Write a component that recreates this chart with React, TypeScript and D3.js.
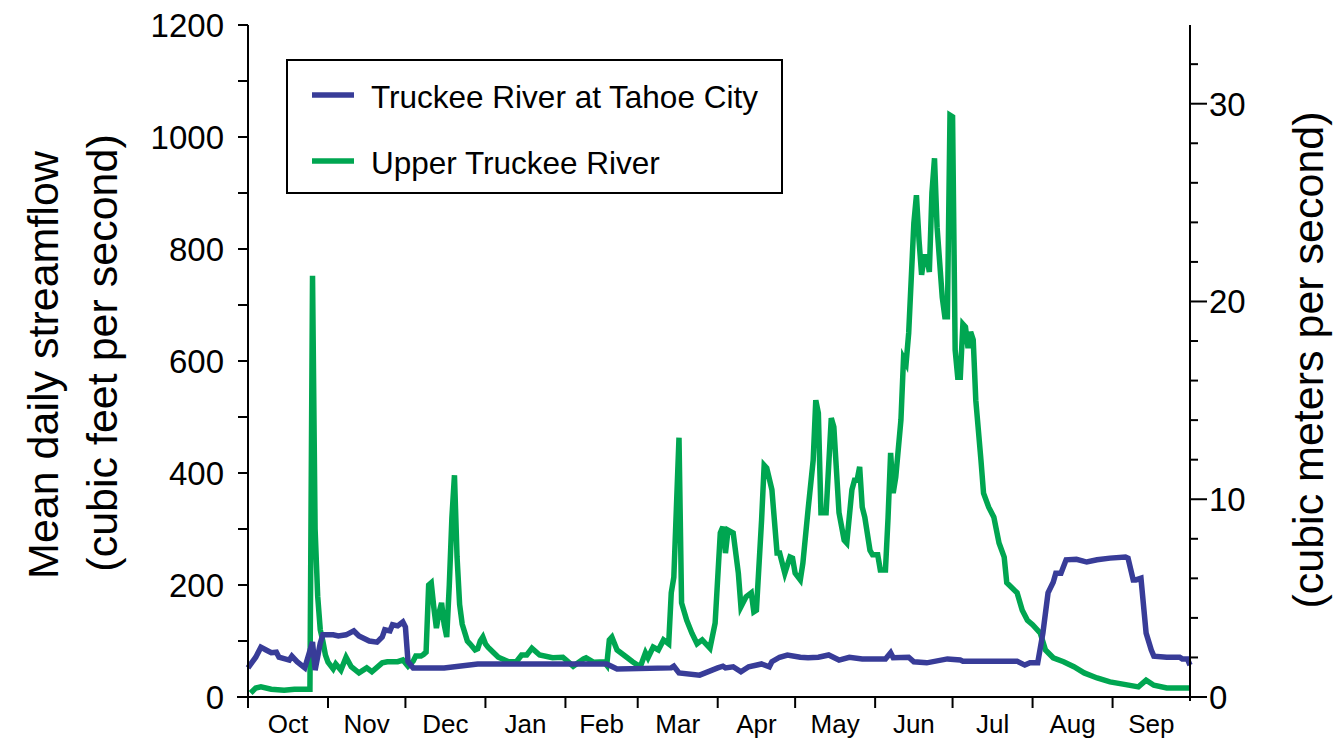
import React from 'react';
import * as d3 from 'd3';

// water-year day (0 = Oct 1) and mean daily flow, cfs
const tahoeCityDay = [0,3,5,7,9,11,12,16,17,19,22,25,26,28,29,33,35,38,41,43,47,50,52,53,55,56,58,60,61,62,64,76,89,139,143,164,165,167,175,182,184,185,188,191,194,199,202,203,206,209,214,217,221,225,229,233,238,247,249,250,256,258,263,271,276,277,298,301,303,306,308,310,312,313,315,317,321,325,329,334,340,341,343,344,346,348,350,351,356,361,362,364,365];
const tahoeCityFlow = [52,71,89,84,79,80,71,66,73,63,52,98,48,96,111,111,109,111,118,109,100,98,107,120,118,129,127,134,125,63,52,52,59,59,50,52,55,43,39,52,55,52,54,45,54,59,54,63,71,75,71,70,71,75,66,71,68,68,79,70,71,63,61,68,66,64,64,57,61,61,114,186,205,221,221,245,246,241,245,248,250,248,209,209,212,114,84,73,71,71,68,68,57];

const upperTruckeeDay = [1,3,5,9,14,18,21,24,25,26,27,28,29,30,31,33,34,36,38,40,43,46,48,52,54,58,60,62,64,65,67,68,69,70,71,72,73,74,75,76,77,78,79,80,81,82,83,84,85,86,88,89,90,91,92,93,95,97,101,104,106,108,110,113,118,122,126,130,131,134,138,139,140,141,143,147,149,152,154,155,157,159,161,163,164,165,167,168,170,172,174,176,179,181,183,184,185,186,188,190,191,193,195,196,197,199,200,201,203,205,206,208,210,211,212,214,215,217,219,220,221,222,224,226,227,229,231,232,234,235,236,237,238,239,241,242,244,245,247,248,249,250,251,253,254,255,256,258,259,260,261,262,263,264,265,266,267,269,270,271,272,273,274,275,276,277,278,279,280,281,282,284,285,287,289,291,293,294,296,298,300,302,304,307,309,312,316,320,324,329,334,339,345,348,351,356,365];
const upperTruckeeFlow = [7,16,18,14,12,14,14,14,752,300,180,120,100,75,62,50,59,48,71,54,43,52,45,61,63,63,66,55,64,73,73,76,80,200,204,160,123,150,168,130,107,200,320,396,250,165,130,115,100,95,84,86,100,107,95,89,80,71,63,63,75,75,87,75,70,71,55,68,70,62,63,57,102,107,84,70,63,54,79,70,89,84,102,95,186,214,463,168,137,114,95,102,87,132,293,304,257,298,293,221,161,179,186,152,155,316,414,409,370,257,257,221,250,248,221,209,239,334,423,530,507,329,329,498,482,329,280,275,370,387,387,411,339,321,262,254,254,227,227,320,436,364,393,495,605,596,650,846,896,816,754,786,786,759,900,962,839,714,679,679,1039,1036,620,571,571,666,661,623,652,638,530,423,364,339,321,275,250,204,195,186,155,137,129,114,84,70,63,54,43,34,27,23,18,30,21,16,16];

const monthStarts = [0,31,61,92,123,151,182,212,243,273,304,335,365];
const monthNames = ['Oct','Nov','Dec','Jan','Feb','Mar','Apr','May','Jun','Jul','Aug','Sep'];
const cfsTicks = [0,200,400,600,800,1000,1200];
const cmsTicks = [0,10,20,30];

const seriesNames = ['Truckee River at Tahoe City', 'Upper Truckee River'];
const seriesColors = ['#383c98', '#00a651'];

const CFS_TO_CMS = 0.0283168;

const W = 1336, H = 739;
const left = 248, right = 1190, top = 25, bottom = 697;
const font = '"Liberation Sans", Arial, sans-serif';

export default function App() {
  const x = d3.scaleLinear().domain([0, 365]).range([left, right]);
  const y = d3.scaleLinear().domain([0, 1200]).range([bottom, top]);
  const y2 = d3.scaleLinear().domain([0, 1200 * CFS_TO_CMS]).range([bottom, top]);

  const line = d3.line<[number, number]>().x(d => x(d[0])).y(d => y(d[1]));
  const tahoe = tahoeCityDay.map((d, i) => [d, tahoeCityFlow[i]] as [number, number]);
  const upper = upperTruckeeDay.map((d, i) => [d, upperTruckeeFlow[i]] as [number, number]);

  const minorCfs = d3.range(0, 1201, 100);
  const minorCms = d3.range(0, 33, 2);

  return (
    <svg width={W} height={H} style={{ position: 'absolute', left: 0, top: 0, background: '#fff' }}
      fontFamily={font}>
      {/* series */}
      <path d={line(upper) || ''} fill="none" stroke={seriesColors[1]} strokeWidth={5.5} />
      <path d={line(tahoe) || ''} fill="none" stroke={seriesColors[0]} strokeWidth={5.5} />

      {/* left axis */}
      <line x1={left} x2={left} y1={top} y2={bottom} stroke="#000" strokeWidth={2} />
      {minorCfs.map(v => (
        <line key={'lt' + v} x1={left - 10} x2={left} y1={y(v)} y2={y(v)} stroke="#000" strokeWidth={2} />
      ))}
      {cfsTicks.map(v => (
        <text key={'ll' + v} x={224} y={y(v)} dy="0.36em" textAnchor="end" fontSize={33}>{v}</text>
      ))}
      <text transform={`translate(58,365) rotate(-90)`} textAnchor="middle" fontSize={43}>Mean daily streamflow</text>
      <text transform={`translate(117,353) rotate(-90)`} textAnchor="middle" fontSize={43}>(cubic feet per second)</text>

      {/* right axis */}
      <line x1={right} x2={right} y1={top} y2={bottom + 4} stroke="#000" strokeWidth={2} />
      {minorCms.map(v => (
        <line key={'rt' + v} x1={right} x2={right + (v % 10 === 0 ? 17 : 8)} y1={y2(v)} y2={y2(v)} stroke="#000" strokeWidth={2} />
      ))}
      {cmsTicks.map(v => (
        <text key={'rl' + v} x={1209} y={y2(v)} dy="0.36em" textAnchor="start" fontSize={33}>{v}</text>
      ))}
      <text transform={`translate(1323,360) rotate(-90)`} textAnchor="middle" fontSize={43}>(cubic meters per second)</text>

      {/* bottom axis */}
      <line x1={237} x2={right} y1={bottom} y2={bottom} stroke="#000" strokeWidth={2} />
      {monthStarts.slice(0, 12).map(d => (
        <line key={'bt' + d} x1={x(d)} x2={x(d)} y1={bottom} y2={bottom + 11} stroke="#000" strokeWidth={2} />
      ))}
      {monthNames.map((m, i) => (
        <text key={m} x={(x(monthStarts[i]) + x(monthStarts[i + 1])) / 2} y={733} textAnchor="middle" fontSize={26}>{m}</text>
      ))}

      {/* legend */}
      <rect x={287} y={60} width={495} height={133} fill="#fff" stroke="#000" strokeWidth={2} />
      {seriesNames.map((s, i) => (
        <g key={s}>
          <line x1={312} x2={354} y1={95 + i * 66} y2={95 + i * 66} stroke={seriesColors[i]} strokeWidth={5.5} />
          <text x={371} y={108 + i * 66} fontSize={31.5}>{s}</text>
        </g>
      ))}
    </svg>
  );
}
